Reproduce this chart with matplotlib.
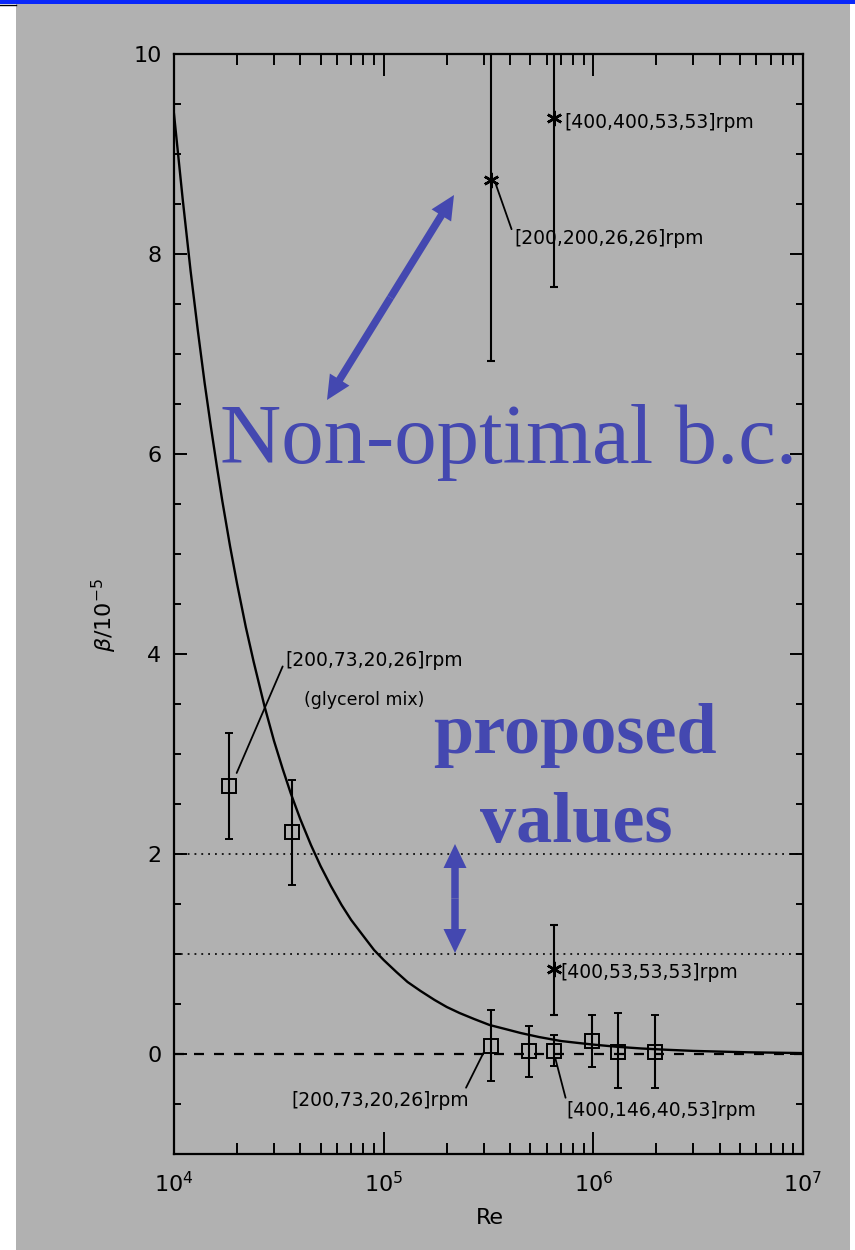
import matplotlib
matplotlib.use("Agg")
import matplotlib.pyplot as plt
from matplotlib.patches import Rectangle, FancyArrow
from matplotlib.lines import Line2D
from matplotlib.ticker import LogLocator, MultipleLocator, NullFormatter

plt.rcParams['font.family'] = ['DejaVu Sans']
plt.rcParams['mathtext.fontset'] = 'dejavusans'

# ---------------- data ----------------
# fitted curve beta(Re)
fit_re = [1.0e4, 1.1e4, 1.2e4, 1.3e4, 1.4e4, 1.5e4, 1.6e4, 1.7e4, 1.85e4, 2.0e4,
          2.2e4, 2.4e4, 2.7e4, 3.0e4, 3.3e4, 3.6e4, 4.0e4, 4.5e4, 5.0e4, 5.6e4,
          6.3e4, 7.0e4, 8.0e4, 9.0e4, 1.0e5, 1.15e5, 1.3e5, 1.5e5, 1.75e5, 2.0e5,
          2.3e5, 2.7e5, 3.2e5, 3.8e5, 4.5e5, 5.5e5, 7.0e5, 8.5e5, 1.0e6, 1.3e6,
          1.7e6, 2.2e6, 3.0e6, 4.0e6, 5.5e6, 7.5e6, 1.0e7]
fit_beta = [9.40, 8.55, 7.83, 7.23, 6.71, 6.27, 5.88, 5.53, 5.08, 4.70,
            4.27, 3.92, 3.48, 3.13, 2.85, 2.61, 2.35, 2.09, 1.88, 1.68,
            1.49, 1.34, 1.18, 1.04, 0.94, 0.82, 0.72, 0.63, 0.54, 0.47,
            0.41, 0.35, 0.29, 0.25, 0.21, 0.17, 0.13, 0.11, 0.094, 0.072,
            0.055, 0.043, 0.031, 0.024, 0.017, 0.013, 0.009]

# square points (with error bars)
sq_re = [1.83e4, 3.65e4, 3.25e5, 4.93e5, 6.5e5, 9.85e5, 1.31e6, 1.97e6]
sq_beta = [2.68, 2.22, 0.08, 0.03, 0.03, 0.13, 0.02, 0.02]
sq_lo = [2.15, 1.69, -0.27, -0.23, -0.12, -0.13, -0.34, -0.34]
sq_hi = [3.21, 2.74, 0.44, 0.28, 0.19, 0.39, 0.41, 0.39]

# asterisk points (with error bars)
st_re = [3.25e5, 6.5e5, 6.5e5]
st_beta = [8.74, 9.36, 0.85]
st_lo = [6.93, 7.67, 0.39]
st_hi = [10.55, 11.05, 1.29]

ref_levels_dotted = [2.0, 1.0]
ref_level_dashed = 0.0

x_label = "Re"
y_label = r"$\beta/10^{-5}$"

# ---------------- figure ----------------
W, H = 855, 1250
fig = plt.figure(figsize=(W / 100, H / 100), dpi=100)
fig.patch.set_facecolor('white')

GRAY = '#b1b1b1'
BLUE = '#4448b0'


def fx(px):
    return px / W


def fy(py):
    return 1 - py / H


fig.patches.append(Rectangle((fx(16), 0), fx(850) - fx(16), fy(4), transform=fig.transFigure,
                             facecolor=GRAY, edgecolor='none', zorder=-5))
fig.patches.append(Rectangle((0, fy(4)), 1, 1 - fy(4), transform=fig.transFigure,
                             facecolor='#0a28fa', edgecolor='none', zorder=-4))
fig.lines.append(Line2D([0, fx(16)], [fy(4.5), fy(4.5)], transform=fig.transFigure,
                        color='black', lw=1.0, zorder=-4))

left, right, top, bottom = 174, 803, 54, 1154
ax = fig.add_axes([fx(left), fy(bottom), fx(right) - fx(left), fy(top) - fy(bottom)])
ax.set_zorder(1)
ax.set_facecolor(GRAY)
ax.set_xscale('log')
ax.set_xlim(1e4, 1e7)
ax.set_ylim(-1, 10)

for s in ax.spines.values():
    s.set_linewidth(1.6)
    s.set_color('black')

ax.yaxis.set_major_locator(MultipleLocator(2))
ax.yaxis.set_minor_locator(MultipleLocator(0.5))
ax.xaxis.set_major_locator(LogLocator(base=10, numticks=10))
ax.xaxis.set_minor_locator(LogLocator(base=10, subs=range(2, 10), numticks=20))
ax.xaxis.set_minor_formatter(NullFormatter())

ax.tick_params(axis='both', which='both', direction='in', top=True, right=True,
               color='black', width=1.4)
ax.tick_params(axis='y', which='major', length=9.5, labelsize=16, pad=9)
ax.tick_params(axis='y', which='minor', length=5)
ax.tick_params(axis='x', which='major', length=16, labelsize=16, pad=12)
ax.tick_params(axis='x', which='minor', length=8)

ax.set_xlabel(x_label, fontsize=16)
ax.xaxis.set_label_coords((490 - left) / (right - left), (bottom - 1218) / (bottom - top))
ax.set_ylabel(y_label, fontsize=16)
ax.yaxis.set_label_coords((104 - left) / (right - left), (bottom - 615) / (bottom - top))
ax.xaxis.label.set_va('center')
ax.yaxis.label.set_va('center')

# reference lines
for lv in ref_levels_dotted:
    ax.axhline(lv, color='black', lw=1.2, dashes=(1.1, 3.0))
ax.axhline(ref_level_dashed, color='black', lw=1.6, dashes=(4.5, 4.5))

# fitted curve
ax.plot(fit_re, fit_beta, color='black', lw=1.7)

# squares with error bars
sq_err = [[b - l for b, l in zip(sq_beta, sq_lo)], [h - b for b, h in zip(sq_beta, sq_hi)]]
ax.errorbar(sq_re, sq_beta, yerr=sq_err, fmt='s', mfc='none', mec='black', ms=9.5, mew=1.4,
            ecolor='black', elinewidth=1.5, capsize=3.2, capthick=1.5)

# asterisks with error bars
st_err = [[b - l for b, l in zip(st_beta, st_lo)], [h - b for b, h in zip(st_beta, st_hi)]]
ax.errorbar(st_re, st_beta, yerr=st_err, fmt='none', ecolor='black', elinewidth=1.5,
            capsize=3.2, capthick=1.5)
ax.plot(st_re, st_beta, ls='none', marker=(6, 2, 0), ms=11, mew=1.8, color='black')

# annotations
afs = 13.5
ax.annotate("[200,73,20,26]rpm", xy=(1.99e4, 2.81), xytext=(3.4e4, 3.94),
            fontsize=afs, ha='left', va='center',
            arrowprops=dict(arrowstyle='-', color='black', lw=1.3, shrinkA=0, shrinkB=0,
                            relpos=(0, 0.5)))
ax.text(4.19e4, 3.54, "(glycerol mix)", fontsize=afs - 1, ha='left', va='center')
ax.annotate("[200,200,26,26]rpm", xy=(3.41e5, 8.71), xytext=(4.2e5, 8.15),
            fontsize=afs, ha='left', va='center',
            arrowprops=dict(arrowstyle='-', color='black', lw=1.3, shrinkA=0, shrinkB=0,
                            relpos=(0, 0.6)))
ax.text(7.25e5, 9.31, "[400,400,53,53]rpm", fontsize=afs, ha='left', va='center')
ax.text(7.0e5, 0.81, "[400,53,53,53]rpm", fontsize=afs, ha='left', va='center')
ax.annotate("[200,73,20,26]rpm", xy=(2.99e5, 0.01), xytext=(2.54e5, -0.46),
            fontsize=afs, ha='right', va='center',
            arrowprops=dict(arrowstyle='-', color='black', lw=1.3, shrinkA=0, shrinkB=0,
                            relpos=(0.97, 0.85)))
ax.annotate("[400,146,40,53]rpm", xy=(6.6e5, -0.05), xytext=(7.45e5, -0.56),
            fontsize=afs, ha='left', va='center',
            arrowprops=dict(arrowstyle='-', color='black', lw=1.3, shrinkA=0, shrinkB=0,
                            relpos=(0.0, 0.95)))

# ---------------- blue overlay (pixel coordinates) ----------------
ov = fig.add_axes([0, 0, 1, 1])
ov.set_zorder(10)
ov.patch.set_alpha(0)
ov.set_xlim(0, W)
ov.set_ylim(H, 0)
ov.axis('off')

ov.text(220, 463, "Non-optimal b.c.", family='Liberation Serif', fontsize=61,
        color=BLUE, ha='left', va='baseline')
ov.text(575, 753, "proposed", family='Liberation Serif', fontsize=52,
        fontweight='bold', color=BLUE, ha='center', va='baseline')
ov.text(576, 842, "values", family='Liberation Serif', fontsize=52,
        fontweight='bold', color=BLUE, ha='center', va='baseline')

for (x0, y0), (x1, y1) in [((327, 400), (454, 195)), ((455, 953), (455, 844))]:
    mx, my = (x0 + x1) / 2, (y0 + y1) / 2
    for ex, ey in [(x0, y0), (x1, y1)]:
        ov.add_patch(FancyArrow(mx, my, ex - mx, ey - my, width=7.5, head_width=23,
                                head_length=24, length_includes_head=True,
                                color=BLUE, lw=0))

fig.savefig('out.png', dpi=100, facecolor=fig.get_facecolor())
